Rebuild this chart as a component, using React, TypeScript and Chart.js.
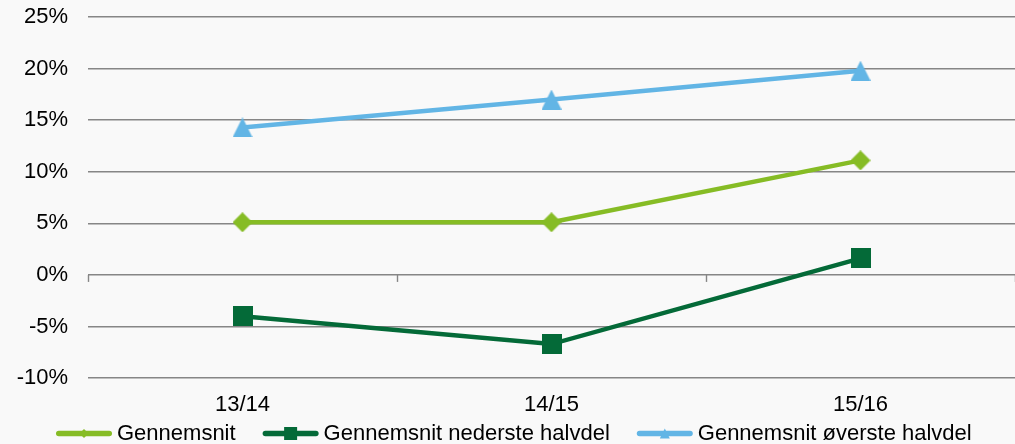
import React, { useEffect, useRef } from "react";
import { Chart, registerables } from "chart.js";

Chart.register(...registerables);

const categories = ["13/14", "14/15", "15/16"];
const gennemsnit = [5.1, 5.1, 11.1];
const nederste = [-4.0, -6.7, 1.6];
const overste = [14.3, 17.0, 19.8];
const seriesNames = [
  "Gennemsnit",
  "Gennemsnit nederste halvdel",
  "Gennemsnit øverste halvdel",
];
const yMin = -10;
const yMax = 25;
const yStep = 5;

const COLORS = ["#86BC25", "#046A38", "#62B5E5"];
const FONT = '"Liberation Sans", Arial, sans-serif';
const GRID = "#868686";

type Shape = "diamond" | "square" | "triangle";
const SHAPES: Shape[] = ["diamond", "square", "triangle"];

function drawShape(ctx: CanvasRenderingContext2D, shape: Shape, cx: number, cy: number, w: number, h: number, color: string) {
  ctx.fillStyle = color;
  ctx.beginPath();
  if (shape === "diamond") {
    ctx.moveTo(cx, cy - h / 2);
    ctx.lineTo(cx + w / 2, cy);
    ctx.lineTo(cx, cy + h / 2);
    ctx.lineTo(cx - w / 2, cy);
  } else if (shape === "square") {
    ctx.rect(cx - w / 2, cy - h / 2, w, h);
  } else {
    ctx.moveTo(cx, cy - h / 2);
    ctx.lineTo(cx + w / 2, cy + h / 2);
    ctx.lineTo(cx - w / 2, cy + h / 2);
  }
  ctx.closePath();
  ctx.fill();
}

function makeMarker(shape: Shape, size: number, color: string) {
  const c = document.createElement("canvas");
  c.width = size;
  c.height = size;
  const ctx = c.getContext("2d")!;
  drawShape(ctx, shape, size / 2, size / 2, size, size, color);
  return c;
}

const zeroTicksPlugin = {
  id: "zeroTicks",
  beforeDatasetsDraw(chart: any) {
    const x = chart.scales.x;
    const y = chart.scales.y;
    const ctx = chart.ctx;
    const y0 = y.getPixelForValue(0);
    const n = categories.length;
    const half = (x.getPixelForValue(1) - x.getPixelForValue(0)) / 2;
    ctx.save();
    ctx.strokeStyle = GRID;
    ctx.lineWidth = 1.4;
    for (let i = 0; i <= n; i++) {
      const px = Math.round(x.getPixelForValue(i) - half) + 0.5;
      ctx.beginPath();
      ctx.moveTo(px, y0);
      ctx.lineTo(px, y0 + 7);
      ctx.stroke();
    }
    ctx.restore();
  },
};

const legendPlugin = {
  id: "customLegend",
  afterDraw(chart: any) {
    const ctx = chart.ctx;
    const ly = chart.height - 10.5;
    let cx = 56;
    const lineLen = 56;
    ctx.save();
    ctx.font = `22px ${FONT}`;
    ctx.textBaseline = "middle";
    ctx.textAlign = "left";
    chart.data.datasets.forEach((ds: any, i: number) => {
      ctx.strokeStyle = COLORS[i];
      ctx.lineWidth = 5.5;
      ctx.lineCap = "round";
      ctx.beginPath();
      ctx.moveTo(cx + 2.75, ly);
      ctx.lineTo(cx + lineLen - 2.75, ly);
      ctx.stroke();
      const ms = SHAPES[i] === "square" ? 13 : SHAPES[i] === "diamond" ? 9 : 10;
      drawShape(ctx, SHAPES[i], cx + lineLen / 2, ly, ms, ms, COLORS[i]);
      ctx.fillStyle = "#000";
      const tx = cx + lineLen + 5;
      ctx.fillText(ds.label, tx, ly);
      cx = tx + ctx.measureText(ds.label).width + 27;
    });
    ctx.restore();
  },
};

export default function App() {
  const ref = useRef<HTMLCanvasElement | null>(null);

  useEffect(() => {
    if (!ref.current) return;
    const seriesData = [gennemsnit, nederste, overste];
    const chart = new Chart(ref.current, {
      type: "line",
      data: {
        labels: categories,
        datasets: seriesData.map((d, i) => ({
          label: seriesNames[i],
          data: d,
          borderColor: COLORS[i],
          backgroundColor: COLORS[i],
          borderWidth: 4.5,
          pointStyle: makeMarker(SHAPES[i], 20, COLORS[i]) as any,
          pointRadius: 10,
          tension: 0,
          fill: false,
        })),
      },
      options: {
        responsive: false,
        animation: false,
        layout: { autoPadding: false, padding: { top: 17, bottom: 12.5, left: 0, right: 0 } },
        plugins: {
          legend: { display: false },
          tooltip: { enabled: false },
        },
        scales: {
          x: {
            offset: true,
            grid: { display: false, drawTicks: false },
            border: { display: false },
            ticks: {
              padding: 13.5,
              color: "#000",
              font: { family: FONT, size: 22 },
              maxRotation: 0,
            },
            afterFit: (scale: any) => {
              scale.paddingLeft = 0;
              scale.paddingRight = 0;
            },
          },
          y: {
            min: yMin,
            max: yMax,
            grid: { color: GRID, lineWidth: 1.4, drawTicks: false },
            border: { display: false },
            ticks: {
              stepSize: yStep,
              padding: 20,
              color: "#000",
              font: { family: FONT, size: 22 },
              callback: (v: any) => `${v}%`,
            },
            afterFit: (scale: any) => {
              scale.width = 88;
              scale.paddingTop = 0;
              scale.paddingBottom = 0;
            },
          },
        },
      },
      plugins: [zeroTicksPlugin, legendPlugin],
    });
    return () => chart.destroy();
  }, []);

  return (
    <div
      style={{
        position: "fixed",
        left: 0,
        top: 0,
        width: 1015,
        height: 444,
        background: "#F9F9F9",
      }}
    >
      <canvas ref={ref} width={1015} height={444} style={{ display: "block" }} />
    </div>
  );
}
